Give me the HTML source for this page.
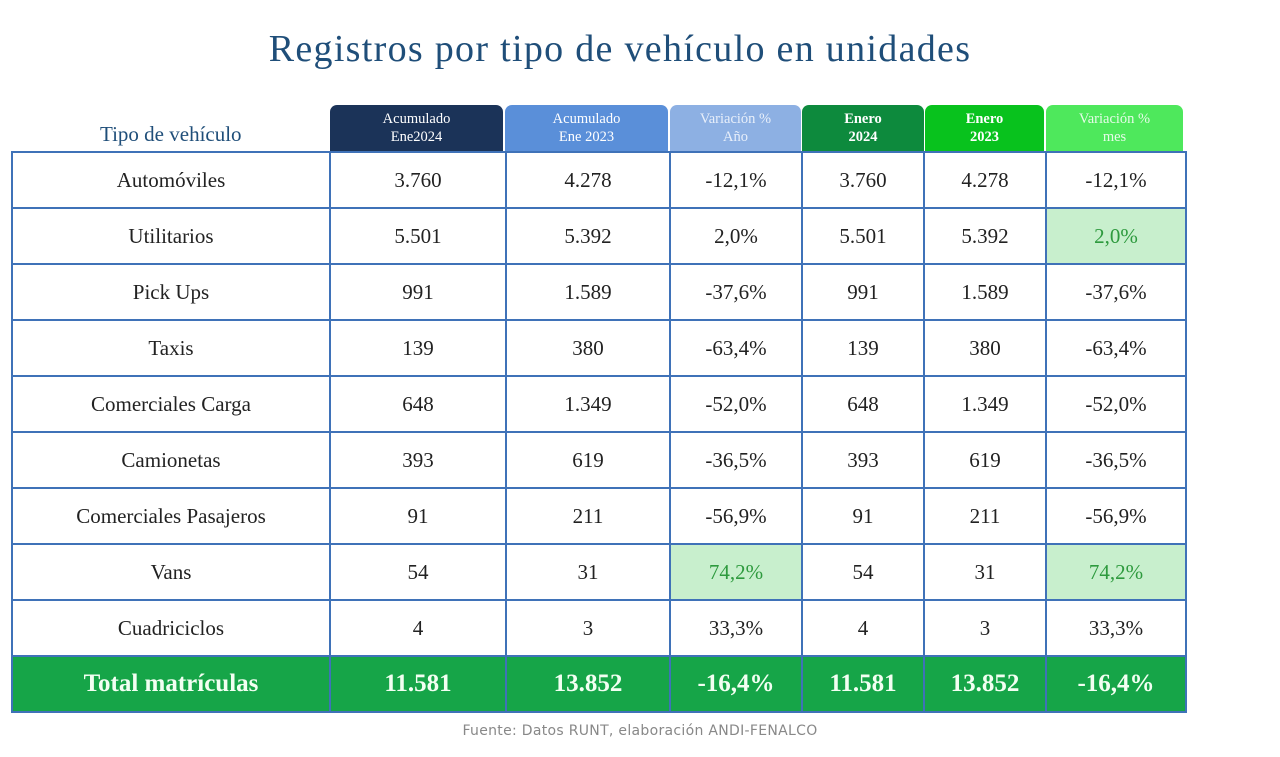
<!DOCTYPE html>
<html><head><meta charset="utf-8"><style>
body{margin:0;width:1280px;height:757px;background:#fff;position:relative;overflow:hidden;font-family:"Liberation Serif",serif}
.t{position:absolute;left:0;width:1240px;top:27px;text-align:center;font-size:38px;color:#1f4e79;letter-spacing:1.3px}
.h{position:absolute;top:105px;height:46px;border-radius:7px 7px 0 0;color:#fff;font-size:14.5px;line-height:18px;text-align:center;display:flex;align-items:center;justify-content:center}
.lab{position:absolute;left:100px;top:122px;font-size:21px;color:#1f4e79}
table{position:absolute;left:11px;top:151px;border-collapse:collapse}
td{border:2px solid #3f72b8;height:54px;padding:0;text-align:center;font-size:21px;color:#222}
td.g{background:#c8efcd;color:#2e9a3e}
tr.tot td{background:#16a548;color:#f2fff2;font-weight:bold;font-size:25px;height:54px}
.src{position:absolute;left:0;width:1280px;top:723px;text-align:center;color:#888;font-family:"DejaVu Sans","Liberation Sans",sans-serif;letter-spacing:0.3px;font-size:14px}
</style></head><body>
<div class="t">Registros por tipo de vehículo en unidades</div>
<div class="lab">Tipo de vehículo</div>
<div class="h" style="left:330px;width:173px;background:#1b3358">Acumulado<br>Ene2024</div>
<div class="h" style="left:505px;width:163px;background:#5a8fd9">Acumulado<br>Ene 2023</div>
<div class="h" style="left:670px;width:131px;background:#8db0e3;color:#e8effa">Variación %<br>Año</div>
<div class="h" style="left:802px;width:122px;background:#0d8a3d;font-weight:bold">Enero<br>2024</div>
<div class="h" style="left:925px;width:119px;background:#08c21d;font-weight:bold">Enero<br>2023</div>
<div class="h" style="left:1046px;width:137px;background:#4ee85c;color:#e6fbe8">Variación %<br>mes</div>
<table>
<colgroup><col style="width:318px"><col style="width:176px"><col style="width:164px"><col style="width:132px"><col style="width:122px"><col style="width:122px"><col style="width:140px"></colgroup>
<tr><td>Automóviles</td><td>3.760</td><td>4.278</td><td>-12,1%</td><td>3.760</td><td>4.278</td><td>-12,1%</td></tr>
<tr><td>Utilitarios</td><td>5.501</td><td>5.392</td><td>2,0%</td><td>5.501</td><td>5.392</td><td class="g">2,0%</td></tr>
<tr><td>Pick Ups</td><td>991</td><td>1.589</td><td>-37,6%</td><td>991</td><td>1.589</td><td>-37,6%</td></tr>
<tr><td>Taxis</td><td>139</td><td>380</td><td>-63,4%</td><td>139</td><td>380</td><td>-63,4%</td></tr>
<tr><td>Comerciales Carga</td><td>648</td><td>1.349</td><td>-52,0%</td><td>648</td><td>1.349</td><td>-52,0%</td></tr>
<tr><td>Camionetas</td><td>393</td><td>619</td><td>-36,5%</td><td>393</td><td>619</td><td>-36,5%</td></tr>
<tr><td>Comerciales Pasajeros</td><td>91</td><td>211</td><td>-56,9%</td><td>91</td><td>211</td><td>-56,9%</td></tr>
<tr><td>Vans</td><td>54</td><td>31</td><td class="g">74,2%</td><td>54</td><td>31</td><td class="g">74,2%</td></tr>
<tr><td>Cuadriciclos</td><td>4</td><td>3</td><td>33,3%</td><td>4</td><td>3</td><td>33,3%</td></tr>
<tr class="tot"><td>Total matrículas</td><td>11.581</td><td>13.852</td><td>-16,4%</td><td>11.581</td><td>13.852</td><td>-16,4%</td></tr>
</table>
<div class="src">Fuente: Datos RUNT, elaboración ANDI-FENALCO</div>
</body></html>
